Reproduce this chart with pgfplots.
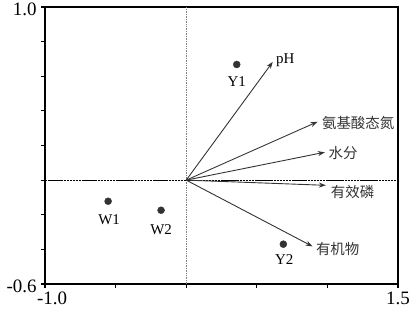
\documentclass[border=0pt]{standalone}
\usepackage{pgfplots}
\pgfplotsset{compat=1.18}
\usepackage{fontspec}
\setmainfont{Liberation Serif}
\newfontfamily\cjk{Noto Sans CJK SC}
\usetikzlibrary{arrows.meta}
\definecolor{dk}{HTML}{333333}
\tikzset{
  arr/.style={dk, line width=0.9pt, -{Stealth[length=7bp,width=5bp]}},
  lbl/.style={font=\fontsize{15}{15}\selectfont, text=black},
  clbl/.style={anchor=west, inner sep=0pt, font=\cjk\fontsize{14.5}{14.5}\selectfont, text=dk},
}
\begin{document}
\begin{tikzpicture}
\begin{axis}[
  scale only axis, width=353bp, height=277bp,
  xmin=-1, xmax=1.5, ymin=-0.6, ymax=1.0,
  clip=false,
  axis line style={line width=1.2pt},
  xtick={-1,-0.5,0,0.5,1,1.5},
  xticklabels={{\kern14bp-1.0},,,,,1.5},
  ytick={-0.6,-0.4,-0.2,0,0.2,0.4,0.6,0.8,1.0},
  yticklabels={-0.6,,,,,,,,1.0},
  tick align=outside, tick pos=left, major tick length=4bp,
  every tick/.style={black, line width=1.1pt},
  tick label style={font=\fontsize{19}{19}\selectfont},
  yticklabel style={xshift=-1bp, yshift=-2.5bp},
]
\addplot[densely dotted, gray, line width=0.7pt] coordinates {(0,-0.6) (0,1.0)};
\addplot[black, line width=0.7pt, dash pattern=on 2.5pt off 0.6pt] coordinates {(-1,0) (1.5,0)};

\addplot[arr] coordinates {(0,0) (0.613,0.683)};
\addplot[arr] coordinates {(0,0) (0.930,0.337)};
\addplot[arr] coordinates {(0,0) (0.982,0.161)};
\addplot[arr] coordinates {(0,0) (0.989,-0.030)};
\addplot[arr] coordinates {(0,0) (0.895,-0.383)};

\addplot[only marks, mark=*, mark size=3.5bp, dk, mark options={fill=dk, draw=dk}]
  coordinates {(0.358,0.668) (0.688,-0.370) (-0.553,-0.122) (-0.178,-0.174)};

\node[lbl] at (axis cs:0.358,0.568) {Y1};
\node[lbl] at (axis cs:0.695,-0.460) {Y2};
\node[lbl] at (axis cs:-0.546,-0.229) {W1};
\node[lbl] at (axis cs:-0.178,-0.287) {W2};

\node[lbl, anchor=west, inner sep=0pt] at (axis cs:0.636,0.690) {pH};
\node[clbl] at (axis cs:0.961,0.332) {氨基酸态氮};
\node[clbl] at (axis cs:1.008,0.155) {水分};
\node[clbl] at (axis cs:1.024,-0.066) {有效磷};
\node[clbl] at (axis cs:0.918,-0.398) {有机物};
\end{axis}
\pgfresetboundingbox
\useasboundingbox (current axis.south west) ++(-45bp,-28bp) rectangle ([shift={(14bp,7bp)}]current axis.north east);
\end{tikzpicture}
\end{document}
